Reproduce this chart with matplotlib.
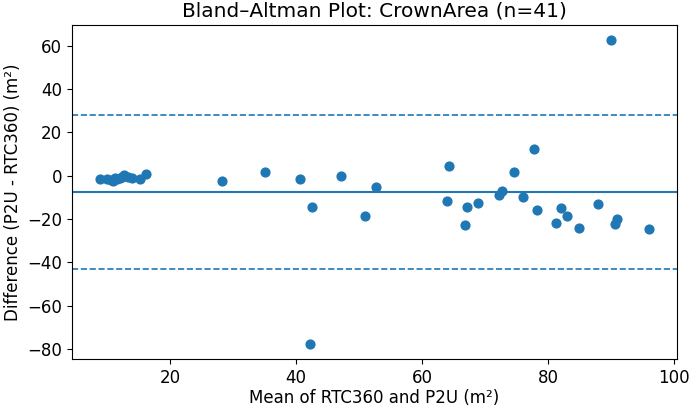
import numpy as np
import matplotlib as mpl
mpl.use('agg')
import matplotlib.pyplot as plt

# mean of the two methods (m²)
mean_vals = [8.8, 10.0, 10.6, 11.0, 11.3, 11.6, 12.0, 12.3, 12.7, 13.4, 13.9, 15.3, 16.2,
             28.2, 35.0, 40.7, 42.2, 42.6, 47.2, 50.9, 52.7,
             64.0, 64.3, 66.8, 67.2, 68.9, 72.2, 72.7, 74.6, 76.1, 77.8, 78.2,
             81.2, 82.1, 83.0, 84.9, 87.9, 90.0, 90.7, 90.9, 96.1]
# difference P2U - RTC360 (m²)
diff_vals = [-1.7, -1.4, -2.0, -2.6, -1.0, -1.7, -1.1, -0.5, 0.1, -0.5, -1.1, -1.4, 0.6,
             -2.3, 1.65, -1.7, -77.5, -14.6, -0.2, -18.8, -5.2,
             -11.7, 4.4, -22.8, -14.2, -12.7, -8.9, -7.1, 1.65, -9.6, 12.5, -15.8,
             -21.6, -15.1, -18.5, -24.0, -13.0, 62.5, -22.3, -20.0, -24.5]

# bias and limits of agreement
bias = -7.6
loa_upper = 28.0
loa_lower = -43.0

fig = plt.figure(figsize=(6.91, 4.07), dpi=100)
ax = fig.add_axes([0.1042, 0.118, 0.8755, 0.8206])

ax.scatter(mean_vals, diff_vals, s=40, color='#1f77b4', zorder=3)
ax.axhline(bias, color='#1f77b4', linewidth=1.5)
ax.axhline(loa_upper, color='#1f77b4', linestyle='--', linewidth=1.2)
ax.axhline(loa_lower, color='#1f77b4', linestyle='--', linewidth=1.2)

ax.set_title('Bland–Altman Plot: CrownArea (n=41)', fontsize=14.5)
ax.set_xlabel('Mean of RTC360 and P2U (m²)', fontsize=12, labelpad=2)
ax.set_ylabel('Difference (P2U - RTC360) (m²)', fontsize=12)
ax.tick_params(labelsize=12)

plt.savefig('out.png', dpi=100)
plt.close()
